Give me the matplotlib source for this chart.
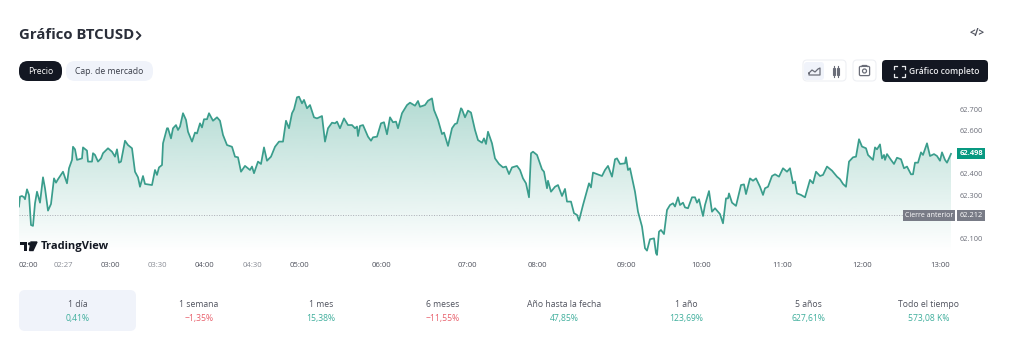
import numpy as np
import matplotlib
matplotlib.use('Agg')
import matplotlib.pyplot as plt
from matplotlib.patches import FancyBboxPatch, Rectangle, Circle
from matplotlib.colors import LinearSegmentedColormap

plt.rcParams['font.family'] = ['Open Sans', 'DejaVu Sans']

## Data ==============================================
bars = [0,1,3,5,6,8,10,12,14,16,18,21,24,26,29,32,35,37,39,44,48,50,53,54,56,58,63,64,68,69,73,74,76,79,82,84,89,93,96,98,100,102,106,109,113,116,119,121,124,126,133,136,138,140,143,144,148,149,152,154,157,159,161,164,167,169,173,176,178,181,183,185,188,190,194,198,201,204,208,213,216,219,222,226,231,233,235,239,242,245,248,252,256,260,264,267,270,273,275,278,280,283,285,288,291,295,298,303,306,309,313,316,318,321,
        325,329,333,336,338,339,341,344,349,352,354,358,362,365,368,371,374,377,379,383,388,391,396,399,401,406,409,413,415,419,423,425,429,433,436,438,442,443,446,449,452,456,459,463,465,467,469,473,476,480,484,487,490,493,498,501,504,507,510,512,514,518,523,525,528,529,532,536,539,543,546,548,552,555,558,560,564,570,572,574,578,583,586,589,593,596,598,601,606,607,609,611,616,619,623,626,628,631,635,637,638,640,642,645,648,651,654,656,659,661,
        664,666,669,673,676,678,680,684,686,690,693,696,701,704,707,709,710,713,717,722,725,727,731,734,737,741,744,746,749,753,756,760,764,768,771,774,776,778,782,786,791,794,797,801,804,808,813,818,821,824,827,830,834,837,840,843,847,849,854,856,858,861,863,865,866,868,872,875,878,882,885,888,892,894,896,899,902,904,908,911,915,918,921,923,926,928,932]
price = [62253,62299,62302,62296,62287,62333,62307,62167,62163,62268,62322,62271,62389,62338,62234,62265,62384,62364,62380,62415,62361,62431,62470,62531,62519,62470,62477,62528,62513,62462,62462,62501,62493,62462,62477,62501,62524,62508,62485,62519,62457,62462,62559,62539,62524,62415,62389,62345,62395,62358,62353,62423,62400,62435,62446,62547,62617,62617,62570,62617,62632,62609,62625,62687,62656,62601,62555,62597,62593,62640,62621,62659,62659,62687,62652,62668,62652,62586,62539,62531,62485,62482,62415,62442,62423,62439,62408,62462,62451,62528,62466,62485,62531,62555,62555,62652,62617,62687,62705,62761,62764,62733,62749,62710,62725,62668,62663,62674,62555,62617,62643,62640,62648,62617,
         62663,62632,62632,62617,62625,62581,62628,62632,62578,62559,62575,62578,62640,62645,62589,62668,62645,62648,62617,62687,62725,62736,62722,62744,62717,62725,62745,62756,62702,62656,62590,62597,62535,62617,62637,62640,62710,62705,62668,62699,62690,62609,62562,62550,62570,62544,62601,62547,62477,62451,62435,62439,62404,62435,62442,62423,62384,62361,62296,62501,62508,62493,62426,62415,62338,62373,62322,62345,62353,62302,62335,62276,62276,62222,62214,62187,62260,62361,62342,62411,62404,62395,62423,62442,62392,62473,62477,62451,62454,62482,62423,62431,62322,62229,62160,62059,62048,62101,62105,62036,62028,62136,62144,62125,62237,62260,62268,62253,62296,62260,
         62271,62249,62245,62296,62296,62271,62287,62209,62260,62325,62229,62245,62218,62175,62291,62291,62314,62271,62256,62353,62356,62311,62384,62373,62384,62345,62307,62338,62345,62395,62403,62392,62431,62415,62431,62361,62369,62314,62307,62296,62377,62361,62415,62395,62400,62439,62420,62392,62380,62358,62345,62462,62482,62485,62566,62532,62524,62493,62470,62528,62519,62542,62477,62493,62470,62497,62470,62451,62480,62473,62431,62439,62403,62403,62457,62457,62505,62493,62547,62488,62497,62488,62466,62505,62470,62457,62498]

tick_bars = [9,44,91,138,185,233,280,362,448,518,607,682,763,843,921]
tick_labels = ['02:00','02:27','03:00','03:30','04:00','04:30','05:00','06:00','07:00','08:00','09:00','10:00','11:00','12:00','13:00']
y_ticks = [62700,62600,62400,62300,62100]
y_tick_labels = ['62.700','62.600','62.400','62.300','62.100']
last_close = 62498
prev_close = 62212

periods = ['1 día','1 semana','1 mes','6 meses','Año hasta la fecha','1 año','5 años','Todo el tiempo']
changes = ['0,41%','−1,35%','15,38%','−11,55%','47,85%','123,69%','627,61%','573,08 K%']
change_up = [True,False,True,False,True,True,True,True]
period_x = [78,199,321,443,564,686,808,929]

green = '#3a9d8c'
dark = '#131722'
light = '#f0f3fa'
grey = '#6a6d78'

fig = plt.figure(figsize=(10.24,3.56), dpi=100)
fig.patch.set_facecolor('white')

# overlay in pixels, for the page stuff around the chart
ui = fig.add_axes([0,0,1,1])
ui.set_xlim(0,1024)
ui.set_ylim(356,0)
ui.axis('off')

## Chart ==============================================
ax = fig.add_axes([19/1024,(356-256)/356,971/1024,166/356])
ax.set_xlim(0,971)
ax.set_ylim(62023,62795)
ax.patch.set_alpha(0)
ax.axis('off')

cmap = LinearSegmentedColormap.from_list('fade',[(0.16,0.60,0.51,0.36),(0.16,0.60,0.51,0.0)])
grad = np.linspace(0,1,256).reshape(-1,1)
im = ax.imshow(grad, cmap=cmap, aspect='auto', extent=[0,971,62040,62770], zorder=1)
poly = ax.fill_between(bars, price, 62023, color='none')
im.set_clip_path(poly.get_paths()[0], transform=ax.transData)
ax.set_xlim(0,971)
ax.set_ylim(62023,62795)

ax.plot(bars, price, color=green, lw=1.25, zorder=3, solid_joinstyle='round')
ax.plot([0,884],[prev_close,prev_close], color='#a9adb5', lw=0.7, ls=(0,(1,1.6)), zorder=2)

for b,l in zip(tick_bars,tick_labels):
    half = l.endswith('27') or l.endswith('30')
    ax.text(b,61981,l,ha='center',va='center',fontsize=5.6,color='#8a8d96' if half else '#50535e',clip_on=False)
for v,l in zip(y_ticks,y_tick_labels):
    ax.text(952,v,l,ha='center',va='center',fontsize=5.4,color=grey,clip_on=False)

ax.text(952,last_close,'62.498',ha='center',va='center',fontsize=5.4,color='white',fontweight='bold',zorder=6,
        bbox=dict(boxstyle='square,pad=0.28',fc='#089981',ec='none'),clip_on=False)
ax.text(952,prev_close,'62.212',ha='center',va='center',fontsize=5.4,color='white',zorder=6,
        bbox=dict(boxstyle='square,pad=0.28',fc='#787b86',ec='none'),clip_on=False)
ax.text(910,prev_close,'Cierre anterior',ha='center',va='center',fontsize=5,color='white',zorder=6,
        bbox=dict(boxstyle='square,pad=0.3',fc='#787b86',ec='none'),clip_on=False)

## Header ==============================================
def pill(x0,y0,x1,y1,fc,r=5,ec='none'):
    ui.add_patch(FancyBboxPatch((x0+r,y0+r),x1-x0-2*r,y1-y0-2*r,boxstyle='round,pad=%g,rounding_size=%g'%(r,r),fc=fc,ec=ec,lw=0.8))

ui.text(19,35,'Gráfico BTCUSD',fontsize=10.7,fontweight='bold',color='#2a2e39',va='center')
ui.plot([137,140.5,137],[32,35.5,39],color='#2a2e39',lw=1.3)

pill(19,61,62,81,dark,r=9)
ui.text(40.5,71,'Precio',fontsize=6.2,color='white',ha='center',va='center')
pill(66,61,153,81,light,r=9)
ui.text(109.5,71,'Cap. de mercado',fontsize=6.2,color='#3b3f4a',ha='center',va='center')

# embed icon
ui.text(977,34,'</>',fontsize=7,color='#50535e',ha='center',va='center',fontweight='bold')

# chart type buttons
pill(803,60,846,81,'white',r=4,ec='#eef0f4')
pill(804,62,824,80,light,r=3)
ui.plot([809,812,815,818,820,820,809,809],[73,70,72,69,68,75,75,73],color='#6a6d78',lw=0.9)
for cx in [834,838]:
    ui.add_patch(Rectangle((cx-1.2,68),2.4,7,fc='none',ec='#6a6d78',lw=0.8))
    ui.plot([cx,cx],[66,77],color='#6a6d78',lw=0.8)
pill(853,60,876,81,'white',r=4,ec='#eef0f4')
ui.add_patch(FancyBboxPatch((860,67),9,8,boxstyle='round,pad=0.6,rounding_size=1.2',fc='none',ec='#6a6d78',lw=0.9))
ui.plot([861.5,862.5,866.5,867.5],[66.5,65.5,65.5,66.5],color='#6a6d78',lw=0.9)
ui.add_patch(Circle((864.5,71),2,fc='none',ec='#6a6d78',lw=0.9))

pill(882,60,988,82,dark,r=4)
ui.text(944,71,'Gráfico completo',fontsize=6.1,color='#e8e9ec',ha='center',va='center',fontweight='semibold')
for sx,sy in [(1,1),(-1,1),(1,-1),(-1,-1)]:
    cx,cy = 899.5+sx*5.5,71+sy*5.5
    ui.plot([cx-sx*3,cx,cx],[cy,cy,cy-sy*3],color='#e8e9ec',lw=0.9)

# TradingView logo
ui.add_patch(Rectangle((20,242),7,3,fc=dark,ec='none'))
ui.add_patch(Rectangle((23.5,242),3.5,8.5,fc=dark,ec='none'))
ui.add_patch(Circle((29.5,243.8),1.6,fc=dark,ec='none'))
ui.fill([31,37,33,29.5],[242,242,250.5,250.5],color=dark)
ui.text(41,246.5,'TradingView',fontsize=8,fontweight='bold',color=dark,va='center')

## Period row ==============================================
pill(19,290,136,331,light,r=6)
for x,p,c,up in zip(period_x,periods,changes,change_up):
    ui.text(x,304.5,p,fontsize=6.2,color='#50535e',ha='center',va='center')
    ui.text(x,318,c,fontsize=6.2,color='#3fae9c' if up else '#e8606c',ha='center',va='center')

fig.savefig('out.png', dpi=100)
